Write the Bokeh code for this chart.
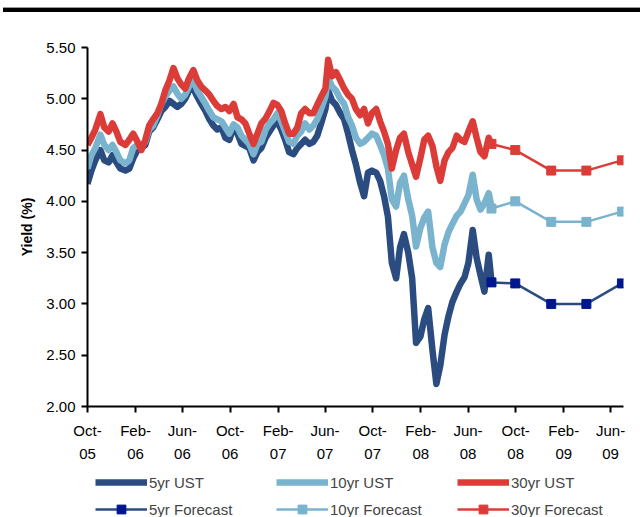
import pandas as pd
from bokeh.plotting import figure
from bokeh.models import (FixedTicker, DatetimeTickFormatter, PrintfTickFormatter,
                          Legend, LegendItem, Div, Range1d, DatetimeAxis)
from bokeh.layouts import column
from bokeh.embed import file_html
from bokeh.resources import INLINE

# ---------------- data ----------------
dates = [
    "2005-10-01", "2005-10-11", "2005-10-21", "2005-11-03", "2005-11-13", "2005-11-24",
    "2005-12-04", "2005-12-14", "2005-12-24", "2006-01-06", "2006-01-16", "2006-01-26",
    "2006-02-06", "2006-02-16", "2006-02-26", "2006-03-08", "2006-03-18", "2006-03-29",
    "2006-04-08", "2006-04-18", "2006-04-29", "2006-05-09", "2006-05-19", "2006-05-29",
    "2006-06-08", "2006-06-18", "2006-06-29", "2006-07-09", "2006-07-19", "2006-07-30",
    "2006-08-09", "2006-08-19", "2006-08-29", "2006-09-09", "2006-09-19", "2006-09-29",
    "2006-10-10", "2006-10-20", "2006-10-30", "2006-11-09", "2006-11-19", "2006-11-30",
    "2006-12-10", "2006-12-20", "2006-12-31", "2007-01-10", "2007-01-20", "2007-01-30",
    "2007-02-09", "2007-02-19", "2007-03-01", "2007-03-12", "2007-03-22", "2007-04-01",
    "2007-04-11", "2007-04-22", "2007-05-02", "2007-05-12", "2007-05-22", "2007-06-02",
    "2007-06-09", "2007-06-19", "2007-06-29", "2007-07-10", "2007-07-20", "2007-07-30",
    "2007-08-09", "2007-08-19", "2007-08-30", "2007-09-09", "2007-09-19", "2007-09-29",
    "2007-10-10", "2007-10-20", "2007-10-30", "2007-11-09", "2007-11-19", "2007-11-30",
    "2007-12-10", "2007-12-20", "2007-12-31", "2008-01-10", "2008-01-20", "2008-01-31",
    "2008-02-10", "2008-02-20", "2008-03-02", "2008-03-12", "2008-03-22", "2008-04-02",
    "2008-04-12", "2008-04-22", "2008-05-03", "2008-05-13", "2008-05-23", "2008-06-02",
    "2008-06-13", "2008-06-23", "2008-07-03", "2008-07-13", "2008-07-24", "2008-07-31",
]

ust5 = [
    4.17, 4.30, 4.40, 4.50, 4.40, 4.38, 4.45, 4.38, 4.32, 4.30, 4.32, 4.42,
    4.50, 4.52, 4.55, 4.68, 4.72, 4.80, 4.88, 4.92, 4.98, 4.95, 4.92, 4.95,
    5.00, 5.08, 5.10, 5.02, 4.95, 4.88, 4.80, 4.74, 4.70, 4.72, 4.62, 4.60,
    4.72, 4.66, 4.56, 4.54, 4.52, 4.40, 4.48, 4.52, 4.62, 4.68, 4.74, 4.78,
    4.70, 4.60, 4.48, 4.46, 4.52, 4.56, 4.60, 4.56, 4.58, 4.64, 4.76, 4.90,
    5.08, 4.98, 4.94, 4.86, 4.80, 4.66, 4.50, 4.36, 4.18, 4.05, 4.28, 4.30,
    4.28, 4.20, 4.05, 3.85, 3.40, 3.25, 3.55, 3.68, 3.50, 3.25, 2.62, 2.68,
    2.85, 2.96, 2.55, 2.22, 2.40, 2.70, 2.88, 3.02, 3.12, 3.20, 3.26, 3.40,
    3.72, 3.45, 3.28, 3.12, 3.48, 3.22,
]

ust10 = [
    4.32, 4.45, 4.52, 4.65, 4.55, 4.50, 4.55, 4.48, 4.40, 4.37, 4.40, 4.52,
    4.55, 4.55, 4.58, 4.70, 4.74, 4.84, 4.95, 5.02, 5.08, 5.12, 5.05, 5.00,
    5.04, 5.12, 5.18, 5.08, 5.02, 4.95, 4.88, 4.82, 4.80, 4.78, 4.72, 4.66,
    4.75, 4.72, 4.64, 4.60, 4.56, 4.46, 4.56, 4.58, 4.70, 4.76, 4.80, 4.86,
    4.78, 4.68, 4.58, 4.56, 4.64, 4.68, 4.76, 4.70, 4.74, 4.80, 4.90, 5.02,
    5.20, 5.12, 5.08, 5.00, 4.95, 4.82, 4.74, 4.62, 4.56, 4.58, 4.62, 4.66,
    4.64, 4.55, 4.45, 4.32, 4.02, 3.95, 4.18, 4.25, 4.02, 3.86, 3.56, 3.74,
    3.84, 3.90, 3.55, 3.40, 3.36, 3.58, 3.70, 3.78, 3.86, 3.90, 3.98, 4.06,
    4.26, 4.02, 3.92, 3.98, 4.08, 3.95,
]

ust30 = [
    4.55, 4.62, 4.70, 4.85, 4.72, 4.68, 4.76, 4.68, 4.58, 4.55, 4.60, 4.66,
    4.58, 4.50, 4.60, 4.74, 4.80, 4.86, 4.95, 5.08, 5.18, 5.30, 5.20, 5.14,
    5.10, 5.20, 5.28, 5.18, 5.12, 5.08, 5.04, 4.98, 4.93, 4.90, 4.92, 4.88,
    4.95, 4.82, 4.80, 4.76, 4.66, 4.56, 4.66, 4.76, 4.81, 4.88, 4.96, 4.94,
    4.88, 4.76, 4.66, 4.66, 4.72, 4.86, 4.90, 4.86, 4.86, 4.94, 5.02, 5.10,
    5.38, 5.22, 5.26, 5.18, 5.10, 5.04, 5.00, 4.90, 4.84, 4.90, 4.76, 4.86,
    4.90, 4.78, 4.68, 4.56, 4.32, 4.50, 4.62, 4.66, 4.48, 4.36, 4.24, 4.42,
    4.60, 4.64, 4.54, 4.34, 4.20, 4.40, 4.48, 4.52, 4.64, 4.60, 4.58, 4.68,
    4.78, 4.62, 4.48, 4.44, 4.62, 4.56,
]

fc_dates = ["2008-07-31", "2008-09-30", "2008-12-31", "2009-03-31", "2009-06-30"]
fc5 = [3.21, 3.20, 3.00, 3.00, 3.20]
fc10 = [3.93, 4.00, 3.80, 3.80, 3.90]
fc30 = [4.56, 4.50, 4.30, 4.30, 4.40]

tick_dates = ["2005-10-01", "2006-02-01", "2006-06-01", "2006-10-01", "2007-02-01",
              "2007-06-01", "2007-10-01", "2008-02-01", "2008-06-01", "2008-10-01",
              "2009-02-01", "2009-06-01"]
y_ticks = [2.0, 2.5, 3.0, 3.5, 4.0, 4.5, 5.0, 5.5]

labels = ["5yr UST", "10yr UST", "30yr UST", "5yr Forecast", "10yr Forecast", "30yr Forecast"]

# ---------------- styling ----------------
C5 = "#2B4C80"
C10 = "#7AB3CD"
C30 = "#DC3C38"
C5SQ = "#00168F"
FONT = "Liberation Sans"
UST_W = 6.5
FC_W = 2.5
SQ = 9

x = pd.to_datetime(dates)
xf = pd.to_datetime(fc_dates)
x_start, x_end = pd.Timestamp("2005-10-01"), pd.Timestamp("2009-07-04")

p = figure(
    x_axis_type="datetime",
    width=640, height=452,
    min_border_left=87, min_border_right=17,
    min_border_top=33, min_border_bottom=60,
    x_range=Range1d(x_start, x_end),
    y_range=Range1d(2.0, 5.5),
    output_backend="svg", toolbar_location=None,
)
p.outline_line_color = None
p.xgrid.visible = False
p.ygrid.visible = False


def draw_series(fig):
    r5 = fig.line(x, ust5, line_color=C5, line_width=UST_W, line_join="round")
    r10 = fig.line(x, ust10, line_color=C10, line_width=UST_W, line_join="round")
    r30 = fig.line(x, ust30, line_color=C30, line_width=UST_W, line_join="round")
    f5l = fig.line(xf, fc5, line_color=C5, line_width=FC_W)
    f5s = fig.scatter(xf, fc5, marker="square", size=SQ, fill_color=C5SQ, line_color=C5SQ)
    f10l = fig.line(xf, fc10, line_color=C10, line_width=FC_W)
    f10s = fig.scatter(xf, fc10, marker="square", size=SQ, fill_color=C10, line_color=C10)
    f30l = fig.line(xf, fc30, line_color=C30, line_width=FC_W)
    f30s = fig.scatter(xf, fc30, marker="square", size=SQ, fill_color=C30, line_color=C30)
    return [[r5], [r10], [r30], [f5l, f5s], [f10l, f10s], [f30l, f30s]]


draw_series(p)


def fmt_all(f):
    return DatetimeTickFormatter(
        microseconds=f, milliseconds=f, seconds=f, minsec=f, minutes=f,
        hourmin=f, hours=f, days=f, months=f, years=f)


ticker = FixedTicker(ticks=[pd.Timestamp(d).value / 1e6 for d in tick_dates])

# month line of the x labels
xa = p.xaxis[0]
xa.ticker = ticker
xa.formatter = fmt_all("%b-")
xa.major_label_standoff = 9

# year line of the x labels (second axis underneath)
xa2 = DatetimeAxis(ticker=ticker, formatter=fmt_all("%y"))
xa2.axis_line_color = None
xa2.major_tick_line_color = None
xa2.major_tick_in = 0
xa2.major_tick_out = 0
xa2.minor_tick_line_color = None
xa2.major_label_standoff = 7
xa2.major_label_text_font = FONT
xa2.major_label_text_font_size = "15px"
xa2.major_label_text_color = "black"
p.add_layout(xa2, "below")

ya = p.yaxis[0]
ya.ticker = FixedTicker(ticks=y_ticks)
ya.formatter = PrintfTickFormatter(format="%.2f")
ya.axis_label = "Yield (%)"
ya.axis_label_text_font = FONT
ya.axis_label_text_font_style = "bold"
ya.axis_label_text_font_size = "14px"
ya.axis_label_text_color = "black"
ya.axis_label_standoff = 8
ya.major_label_standoff = 6

for ax in (xa, ya):
    ax.axis_line_color = "black"
    ax.axis_line_width = 2
    ax.major_tick_line_color = "black"
    ax.major_tick_line_width = 2
    ax.major_tick_in = 0
    ax.major_tick_out = 6
    ax.minor_tick_line_color = None
    ax.major_label_text_font = FONT
    ax.major_label_text_font_size = "15px"
    ax.major_label_text_color = "black"

# ---------------- legend strip (same series, view range keeps them off-screen) ----------------
lg = figure(
    width=640, height=51, min_border=0,
    x_range=Range1d(x_start, x_end), y_range=Range1d(100, 101),
    x_axis_location=None, y_axis_location=None,
    output_backend="svg", toolbar_location=None,
)
lg.outline_line_color = None
lg.xgrid.visible = False
lg.ygrid.visible = False
proxies = draw_series(lg)

legend = Legend(
    items=[LegendItem(label=lab, renderers=rs) for lab, rs in zip(labels, proxies)],
    orientation="horizontal", ncols=3,
    location=(8, -3),
    glyph_width=52, glyph_height=22, label_height=22, label_width=122,
    label_standoff=2, spacing=5, padding=0, margin=0,
    label_text_font=FONT, label_text_font_size="15px",
    border_line_color=None, background_fill_alpha=0,
)
lg.add_layout(legend, "center")

top = Div(
    text='<div style="margin-left:3px;margin-top:7px;width:637px;height:1px;background:#999"></div>'
         '<div style="margin-left:3px;width:637px;height:4px;background:#000"></div>',
    width=640, height=14, margin=(0, 0, 0, 0),
)
p.margin = (0, 0, 0, 0)
lg.margin = (0, 0, 0, 0)
layout = column(top, p, lg, spacing=0, margin=(0, 0, 0, 0))

open("out.html", "w").write(file_html(layout, INLINE))
